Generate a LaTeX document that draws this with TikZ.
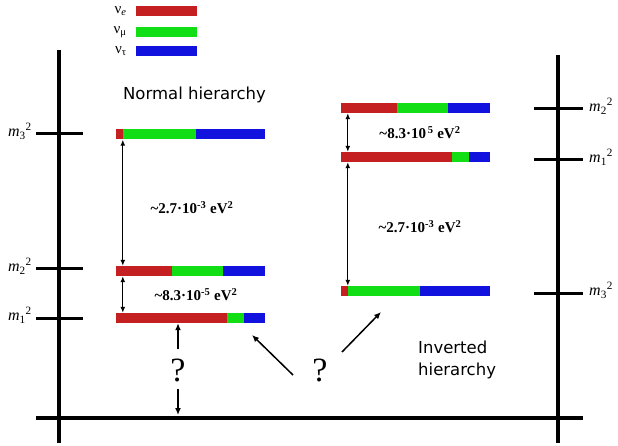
\documentclass[tikz,border=0pt]{standalone}
\usepackage{fontspec}
\setmainfont{Liberation Serif}
\newfontfamily\hiersans{DejaVu Sans}
\usetikzlibrary{arrows.meta,positioning,calc}
\definecolor{NuRed}{RGB}{196,32,34}
\definecolor{NuGreen}{RGB}{18,222,22}
\definecolor{NuBlue}{RGB}{18,18,222}
\tikzset{
  nu/bar/.style 2 args={
    rectangle,
    inner sep=0pt,
    minimum width=149pt,
    minimum height=10pt,
    path picture={
      \fill[NuRed] (path picture bounding box.south west) rectangle ([xshift=#1pt]path picture bounding box.north west);
      \fill[NuGreen] ([xshift=#1pt]path picture bounding box.south west) rectangle ([xshift=#2pt]path picture bounding box.north west);
      \fill[NuBlue] ([xshift=#2pt]path picture bounding box.south west) rectangle (path picture bounding box.north east);
    }
  },
  nu/key/.style={rectangle, inner sep=0pt, minimum width=61pt, minimum height=10pt, fill=#1},
  nu/flavour/.style={inner sep=0pt, font=\fontsize{15}{17}\selectfont},
  nu/axis/.style={line width=3.3pt},
  nu/tick/.style={line width=3pt},
  nu/mass/.style={inner sep=0pt, font=\fontsize{16}{18}\selectfont},
  nu/split/.style={inner sep=0pt, font=\bfseries\fontsize{15}{17}\selectfont},
  nu/title/.style={inner sep=0pt, align=left, font=\hiersans\fontsize{16.5}{22}\selectfont},
  nu/query/.style={inner sep=0pt, font=\fontsize{34}{36}\selectfont},
  nu/gap/.style={{Latex[length=6pt,width=5pt]}-{Latex[length=6pt,width=5pt]}, line width=1.3pt},
  nu/arrow/.style={-{Latex[length=7pt,width=6pt]}, line width=1.5pt}
}
\begin{document}
\begin{tikzpicture}[x=1pt,y=-1pt]
  \useasboundingbox (0,0) rectangle (618,446);
  % axes
  \coordinate (axLtop) at (59,50);
  \coordinate (axLbot) at (59,443);
  \coordinate (axRtop) at (558,55);
  \coordinate (axRbot) at (558,443);
  \coordinate (floorL) at (36,418);
  \coordinate (floorR) at (583,418);
  \draw[nu/axis] (axLtop) -- (axLbot);
  \draw[nu/axis] (axRtop) -- (axRbot);
  \draw[nu/axis] (floorL) -- (floorR);
  \draw[nu/tick] (36,134) -- (83,134);
  \draw[nu/tick] (36,269) -- (83,269);
  \draw[nu/tick] (36,318) -- (83,318);
  \draw[nu/tick] (534,109) -- (583,109);
  \draw[nu/tick] (534,160) -- (583,160);
  \draw[nu/tick] (534,293) -- (583,293);
  \node[nu/mass, anchor=east] (lm3) at (32,131) {\textit{m}\textsubscript{3}\textsuperscript{2}};
  \node[nu/mass, anchor=east] (lm2) at (32,266) {\textit{m}\textsubscript{2}\textsuperscript{2}};
  \node[nu/mass, anchor=east] (lm1) at (32,315) {\textit{m}\textsubscript{1}\textsuperscript{2}};
  \node[nu/mass, anchor=west] (rm2) at (589,106) {\textit{m}\textsubscript{2}\textsuperscript{2}};
  \node[nu/mass, anchor=west] (rm1) at (589,157) {\textit{m}\textsubscript{1}\textsuperscript{2}};
  \node[nu/mass, anchor=west] (rm3) at (589,290) {\textit{m}\textsubscript{3}\textsuperscript{2}};
  % legend
  \node[nu/key=NuRed] (keye) at (166.5,11) {};
  \node[nu/key=NuGreen] (keymu) at (166.5,32) {};
  \node[nu/key=NuBlue] (keytau) at (166.5,51) {};
  \node[nu/flavour, left=9pt of keye] (labe) {ν\textsubscript{\textit{e}}};
  \node[nu/flavour, left=9pt of keymu] (labmu) {ν\textsubscript{μ}};
  \node[nu/flavour, left=9pt of keytau] (labtau) {ν\textsubscript{τ}};
  % normal ordering
  \node[nu/title] (normal) at (194.5,95) {Normal hierarchy};
  \node[nu/bar={7}{80}] (n3) at (190.5,134.5) {};
  \node[nu/bar={56}{107}] (n2) at (190.5,271) {};
  \node[nu/bar={111}{128}] (n1) at (190.5,318) {};
  \draw[nu/gap] ([xshift=7pt]n3.south west) -- ([xshift=7pt]n2.north west);
  \draw[nu/gap] ([xshift=7pt]n2.south west) -- ([xshift=7pt]n1.north west);
  \node[nu/split] (dn32) at (192,208) {\textasciitilde2.7·10\textsuperscript{-3} eV\textsuperscript{2}};
  \node[nu/split] (dn21) at (196,295) {\textasciitilde8.3·10\textsuperscript{-5} eV\textsuperscript{2}};
  % inverted ordering
  \node[nu/title, anchor=north west] (inverted) at (418,341) {Inverted\\hierarchy};
  \node[nu/bar={56}{107}] (i2) at (415.5,108) {};
  \node[nu/bar={111}{128}] (i1) at (415.5,157) {};
  \node[nu/bar={7}{79}] (i3) at (415.5,291) {};
  \draw[nu/gap] ([xshift=7pt]i2.south west) -- ([xshift=7pt]i1.north west);
  \draw[nu/gap] ([xshift=7pt]i1.south west) -- ([xshift=7pt]i3.north west);
  \node[nu/split] (di21) at (420,133) {\textasciitilde8.3·10\textsuperscript{\,5} eV\textsuperscript{2}};
  \node[nu/split] (di32) at (420,227) {\textasciitilde2.7·10\textsuperscript{-3} eV\textsuperscript{2}};
  % unknowns
  \node[nu/query] (qn) at (178,370) {?};
  \node[nu/query] (qi) at (320,370) {?};
  \draw[nu/arrow, shorten <=9pt] (qn.north) -- (qn.north |- n1.south);
  \draw[nu/arrow, shorten <=7pt, shorten >=3pt] (qn.south) -- (qn.south |- floorL);
  \coordinate (askN) at (293,375);
  \coordinate (tipN) at (252,335);
  \coordinate (askI) at (342,352);
  \coordinate (tipI) at (381,312);
  \draw[nu/arrow] (askN) -- (tipN);
  \draw[nu/arrow] (askI) -- (tipI);
\end{tikzpicture}
\end{document}
